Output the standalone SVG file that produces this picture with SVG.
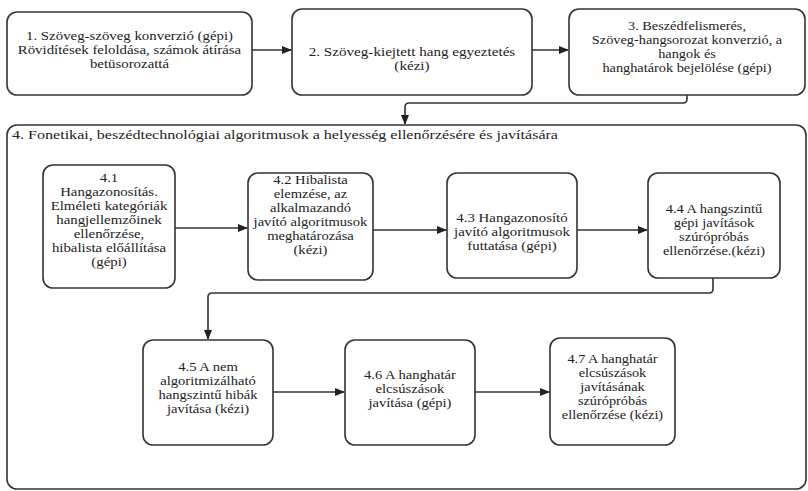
<svg xmlns="http://www.w3.org/2000/svg" width="808" height="491" viewBox="0 0 808 491" font-family="'Liberation Serif', 'Times New Roman', serif">
<defs>
<style>
.box{fill:#fff;stroke:#333;stroke-width:1.6}
.t{font-family:'Liberation Serif','Times New Roman',serif;font-size:13.5px;fill:#222;text-anchor:middle}
.tl{font-family:'Liberation Serif','Times New Roman',serif;font-size:13.5px;fill:#222}
.c{fill:none;stroke:#333;stroke-width:1.6}
</style>
<marker id="arr" markerWidth="10" markerHeight="8" refX="9" refY="4" orient="auto" markerUnits="userSpaceOnUse">
<path d="M0,0 L10,4 L0,8 Z" fill="#222"/>
</marker>
</defs>
<rect width="808" height="491" fill="#fff"/>

<g id="n1"><rect class="box" x="7" y="12" width="245" height="83" rx="10"/>
<text class="t" transform="matrix(1.1,0,0,1,-12.95,0)"><tspan x="129.5" y="40">1. Szöveg-szöveg konverzió (gépi)</tspan><tspan x="129.5" y="54">Rövidítések feloldása, számok átírása</tspan><tspan x="129.5" y="68">betüsorozattá</tspan></text></g>

<g id="n2"><rect class="box" x="292" y="9" width="240" height="86" rx="10"/>
<text class="t" transform="matrix(1.12,0,0,1,-49.44,0)"><tspan x="412" y="56">2. Szöveg-kiejtett hang egyeztetés</tspan><tspan x="412" y="70">(kézi)</tspan></text></g>

<g id="n3"><rect class="box" x="569" y="9" width="236" height="86" rx="10"/>
<text class="t" transform="matrix(1.06,0,0,1,-41.22,0)"><tspan x="687" y="30">3. Beszédfelismerés,</tspan><tspan x="687" y="44">Szöveg-hangsorozat konverzió, a</tspan><tspan x="687" y="58">hangok és</tspan><tspan x="687" y="72">hanghatárok bejelölése (gépi)</tspan></text></g>

<g id="n4"><rect class="box" x="7" y="125" width="799" height="364" rx="10"/>
<text class="tl" x="12" y="139" textLength="546" lengthAdjust="spacingAndGlyphs">4. Fonetikai, beszédtechnológiai algoritmusok a helyesség ellenőrzésére és javítására</text></g>

<g id="n41"><rect class="box" x="43" y="165" width="132" height="123" rx="10"/>
<text class="t" transform="matrix(1.1,0,0,1,-10.9,0)"><tspan x="109" y="182">4.1</tspan><tspan x="109" y="196">Hangazonosítás.</tspan><tspan x="109" y="210">Elméleti kategóriák</tspan><tspan x="109" y="224">hangjellemzőinek</tspan><tspan x="109" y="238">ellenőrzése,</tspan><tspan x="109" y="252">hibalista előállítása</tspan><tspan x="109" y="266">(gépi)</tspan></text></g>

<g id="n42"><rect class="box" x="248" y="173" width="125" height="107" rx="10"/>
<text class="t" transform="matrix(1.08,0,0,1,-24.84,0)"><tspan x="310.5" y="184">4.2 Hibalista</tspan><tspan x="310.5" y="198">elemzése, az</tspan><tspan x="310.5" y="212">alkalmazandó</tspan><tspan x="310.5" y="226">javító algoritmusok</tspan><tspan x="310.5" y="240">meghatározása</tspan><tspan x="310.5" y="254">(kézi)</tspan></text></g>

<g id="n43"><rect class="box" x="447" y="173" width="130" height="105" rx="10"/>
<text class="t" transform="matrix(1.1,0,0,1,-51.2,0)"><tspan x="512" y="222">4.3 Hangazonosító</tspan><tspan x="512" y="236">javító algoritmusok</tspan><tspan x="512" y="250">futtatása (gépi)</tspan></text></g>

<g id="n44"><rect class="box" x="648" y="173" width="132" height="105" rx="10"/>
<text class="t" transform="matrix(1.07,0,0,1,-49.98,0)"><tspan x="714" y="213">4.4 A hangszintű</tspan><tspan x="714" y="227">gépi javítások</tspan><tspan x="714" y="241">szúrópróbás</tspan><tspan x="714" y="255">ellenőrzése.(kézi)</tspan></text></g>

<g id="n45"><rect class="box" x="143" y="340" width="130" height="105" rx="10"/>
<text class="t" transform="matrix(1.08,0,0,1,-16.64,0)"><tspan x="208" y="371">4.5 A nem</tspan><tspan x="208" y="385">algoritmizálható</tspan><tspan x="208" y="399">hangszintű hibák</tspan><tspan x="208" y="413">javítása (kézi)</tspan></text></g>

<g id="n46"><rect class="box" x="345" y="340" width="130" height="105" rx="10"/>
<text class="t" transform="matrix(1.08,0,0,1,-32.8,0)"><tspan x="410" y="379">4.6 A hanghatár</tspan><tspan x="410" y="393">elcsúszások</tspan><tspan x="410" y="407">javítása (gépi)</tspan></text></g>

<g id="n47"><rect class="box" x="550" y="338" width="125" height="107" rx="10"/>
<text class="t" transform="matrix(1.06,0,0,1,-36.75,0)"><tspan x="612.5" y="363">4.7 A hanghatár</tspan><tspan x="612.5" y="377">elcsúszások</tspan><tspan x="612.5" y="391">javításának</tspan><tspan x="612.5" y="405">szúrópróbás</tspan><tspan x="612.5" y="419">ellenőrzése (kézi)</tspan></text></g>

<g id="connectors">
<path class="c" d="M252,50 H291" marker-end="url(#arr)"/>
<path class="c" d="M532,50 H568" marker-end="url(#arr)"/>
<path class="c" d="M687,95 V99 Q687,103 683,103 H409 Q405,103 405,107 V124" marker-end="url(#arr)"/>
<path class="c" d="M175,228 H247" marker-end="url(#arr)"/>
<path class="c" d="M373,230 H446" marker-end="url(#arr)"/>
<path class="c" d="M577,230 H647" marker-end="url(#arr)"/>
<path class="c" d="M713,278 V289 Q713,293 709,293 H212 Q208,293 208,297 V339" marker-end="url(#arr)"/>
<path class="c" d="M273,392 H344" marker-end="url(#arr)"/>
<path class="c" d="M475,392 H549" marker-end="url(#arr)"/>
</g>
</svg>
